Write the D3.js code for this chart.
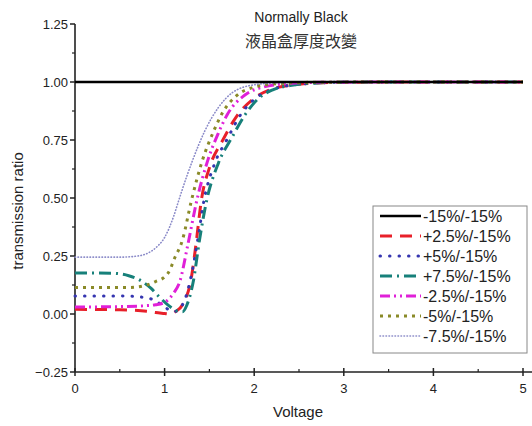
<!DOCTYPE html>
<html lang="en">
<head>
    <meta charset="utf-8" />
    <title>Normally Black</title>
    <style>
        body { margin: 0; background: #fff; }
        text { font-family: "Liberation Sans", Arial, sans-serif; fill: #222; }
    </style>
</head>
<body>
<script src="https://d3js.org/d3.v7.min.js"></script>
<div id="chart"></div>
<script>
    // series names (legend order)
    const seriesNames = ["-15%/-15%", "+2.5%/-15%", "+5%/-15%", "+7.5%/-15%", "-2.5%/-15%", "-5%/-15%", "-7.5%/-15%"];

    // [voltage, transmission] pairs
    const s_m15 = [[0, 1.0], [5, 1.0]];
    const s_p25 = [[0, .02], [0.5, .018], [0.8, .012], [0.9, .006], [1.0, .002], [1.05, 0], [1.12, .01], [1.2, .04], [1.3, .16], [1.35, .3], [1.41, .49], [1.5, .63], [1.65, .75], [1.8, .85], [2.0, .93], [2.2, .97], [2.5, .99], [3, .999], [4, 1.0], [5, 1.0]];
    const s_p5 = [[0, .078], [0.5, .078], [0.8, .07], [0.9, .056], [1.0, .03], [1.1, .01], [1.2, .04], [1.3, .17], [1.37, .32], [1.44, .49], [1.55, .64], [1.7, .755], [1.85, .86], [2.0, .925], [2.2, .967], [2.5, .99], [3, .999], [4, 1.0], [5, 1.0]];
    const s_p75 = [[0, .177], [0.4, .176], [0.6, .165], [0.72, .147], [0.85, .11], [0.95, .07], [1.05, .035], [1.15, .012], [1.2, .01], [1.25, .04], [1.32, .14], [1.39, .32], [1.47, .49], [1.6, .65], [1.75, .76], [1.9, .86], [2.05, .93], [2.2, .965], [2.4, .985], [2.7, .996], [3.2, 1.0], [4, 1.0], [5, 1.0]];
    const s_m25 = [[0, .03], [0.5, .032], [0.8, .036], [0.9, .04], [1.0, .05], [1.1, .09], [1.17, .14], [1.26, .3], [1.36, .49], [1.48, .66], [1.6, .78], [1.7, .86], [1.9, .945], [2.1, .978], [2.4, .994], [2.8, .999], [4, 1.0], [5, 1.0]];
    const s_m5 = [[0, .114], [0.6, .114], [0.8, .125], [0.9, .14], [1.0, .16], [1.06, .19], [1.1, .23], [1.2, .32], [1.3, .49], [1.42, .66], [1.55, .79], [1.65, .87], [1.8, .94], [2.0, .978], [2.3, .994], [2.7, .999], [4, 1.0], [5, 1.0]];
    const s_m75 = [[0, .245], [0.5, .245], [0.7, .25], [0.8, .26], [0.9, .285], [1.0, .33], [1.1, .42], [1.15, .48], [1.2, .54], [1.31, .66], [1.45, .79], [1.6, .89], [1.76, .955], [2.0, .988], [2.3, .997], [3, 1.0], [4, 1.0], [5, 1.0]];

    const seriesData = [s_m15, s_p25, s_p5, s_p75, s_m25, s_m5, s_m75];

    const xTicks = [0, 1, 2, 3, 4, 5];
    const yTicks = [-0.25, 0, 0.25, 0.5, 0.75, 1.0, 1.25];

    // line styles per series
    const styles = [
        {color: "#000000", width: 2.6, dash: null},
        {color: "#e8202a", width: 3, dash: "12,8"},
        {color: "#3535b0", width: 3, dash: "0.5,9"},
        {color: "#17807a", width: 3, dash: "12,5,2,5"},
        {color: "#e020d8", width: 3, dash: "10,4,2,4,2,4"},
        {color: "#8a8a28", width: 3, dash: "3,5"},
        {color: "#8a8ac8", width: 1.6, dash: "0.5,2.5"}
    ];

    const width = 532, height = 426;

    const svg = d3.select("#chart")
        .append("svg")
        .attr("width", width)
        .attr("height", height);

    const x = d3.scaleLinear().domain([0, 5]).range([75, 523]);
    const y = d3.scaleLinear().domain([-0.25, 1.25]).range([372, 24]);

    // axes
    const xAxis = svg.append("g").attr("transform", `translate(0,${y(-0.25)})`);
    xAxis.append("line").attr("x1", x(0)).attr("x2", 532).attr("stroke", "#222").attr("stroke-width", 1.6);
    xAxis.selectAll(".xmaj").data(xTicks).join("line")
        .attr("x1", d => x(d)).attr("x2", d => x(d))
        .attr("y1", -4).attr("y2", 4).attr("stroke", "#222").attr("stroke-width", 1.5);
    xAxis.selectAll(".xmin").data([0.5, 1.5, 2.5, 3.5, 4.5]).join("line")
        .attr("x1", d => x(d)).attr("x2", d => x(d))
        .attr("y1", -3).attr("y2", 0).attr("stroke", "#222").attr("stroke-width", 1.2);
    xAxis.selectAll(".xlab").data(xTicks).join("text")
        .attr("x", d => x(d)).attr("y", 21)
        .attr("text-anchor", "middle").style("font-size", "13px")
        .text(d => d);

    const yAxis = svg.append("g").attr("transform", `translate(${x(0)},0)`);
    yAxis.append("line").attr("y1", y(1.25)).attr("y2", y(-0.25)).attr("stroke", "#222").attr("stroke-width", 1.6);
    yAxis.selectAll(".ymaj").data(yTicks).join("line")
        .attr("x1", -5).attr("x2", 0)
        .attr("y1", d => y(d)).attr("y2", d => y(d)).attr("stroke", "#222").attr("stroke-width", 1.5);
    yAxis.selectAll(".ymin").data(d3.range(-0.125, 1.25, 0.25)).join("line")
        .attr("x1", -3).attr("x2", 0)
        .attr("y1", d => y(d)).attr("y2", d => y(d)).attr("stroke", "#222").attr("stroke-width", 1.2);
    yAxis.selectAll(".ylab").data(yTicks).join("text")
        .attr("x", -7).attr("y", d => y(d)).attr("dy", "0.35em")
        .attr("text-anchor", "end").style("font-size", "13px")
        .text(d => d3.format(".2f")(d));

    // axis titles
    svg.append("text").attr("x", 298).attr("y", 417)
        .attr("text-anchor", "middle").style("font-size", "15px").text("Voltage");
    svg.append("text").attr("transform", "translate(23,211) rotate(-90)")
        .attr("text-anchor", "middle").style("font-size", "15px").text("transmission ratio");

    // chart title
    svg.append("text").attr("x", 301).attr("y", 22)
        .attr("text-anchor", "middle").style("font-size", "14px").text("Normally Black");
    svg.append("text").attr("x", 301).attr("y", 47)
        .attr("text-anchor", "middle").style("font-size", "16px")
        .style("font-family", "'Noto Sans CJK TC', sans-serif").style("fill", "#333")
        .text("液晶盒厚度改變");

    // curves
    const line = d3.line()
        .x(d => x(d[0]))
        .y(d => y(d[1]))
        .curve(d3.curveMonotoneX);

    const order = [1, 2, 3, 4, 5, 6, 0]; // black on top
    order.forEach(i => {
        svg.append("path")
            .datum(seriesData[i])
            .attr("d", line)
            .attr("fill", "none")
            .attr("stroke", styles[i].color)
            .attr("stroke-width", styles[i].width)
            .attr("stroke-dasharray", styles[i].dash)
            .attr("stroke-linecap", styles[i].dash && styles[i].dash.startsWith("0.5") ? "round" : "butt");
    });

    // legend
    const legend = svg.append("g");
    legend.append("rect")
        .attr("x", 373).attr("y", 206).attr("width", 154).attr("height", 147)
        .attr("fill", "#fff").attr("stroke", "#888").attr("stroke-width", 1);
    seriesNames.forEach((name, i) => {
        const ly = 216 + i * 20;
        legend.append("line")
            .attr("x1", 380).attr("x2", 421).attr("y1", ly).attr("y2", ly)
            .attr("stroke", styles[i].color)
            .attr("stroke-width", styles[i].width)
            .attr("stroke-dasharray", styles[i].dash)
            .attr("stroke-linecap", styles[i].dash && styles[i].dash.startsWith("0.5") ? "round" : "butt");
        legend.append("text")
            .attr("x", 423).attr("y", ly).attr("dy", "0.36em")
            .style("font-size", "16px").text(name);
    });
</script>
</body>
</html>
